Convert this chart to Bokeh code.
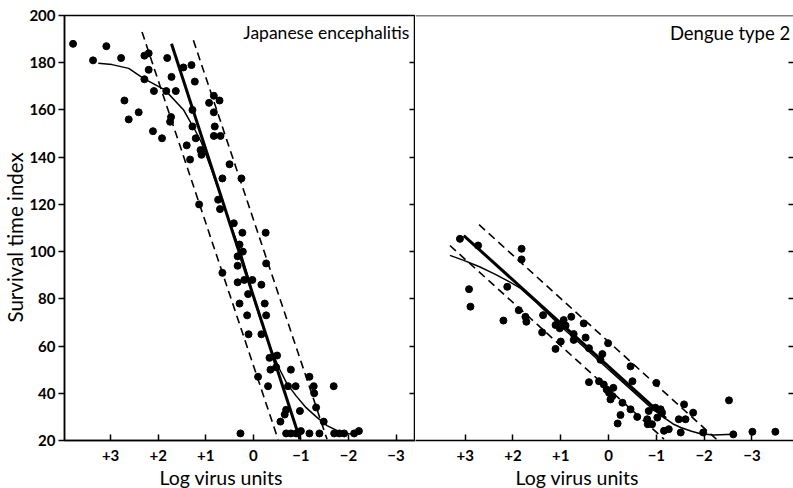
from bokeh.plotting import figure
from bokeh.layouts import row
from bokeh.models import Range1d, LinearAxis, FixedTicker, Label, Span, Title
from bokeh.embed import file_html
from bokeh.resources import INLINE

# ---------------- data ----------------
y_ticks = [20, 40, 60, 80, 100, 120, 140, 160, 180, 200]
inner_ticks = [40, 60, 80, 100, 120, 140, 160, 180]
x_ticks = [3, 2, 1, 0, -1, -2, -3]
x_tick_labels = ["+3", "+2", "+1", "0", "\u22121", "\u22122", "\u22123"]

# Japanese encephalitis observations
je_x = [3.79, 3.37, 3.09, 2.78, 2.71, 2.62, 2.41, 2.29, 2.20, 2.20, 2.29, 2.09, 2.11, 1.92,
        1.81, 1.83, 1.72, 1.63, 1.73, 1.75, 1.47, 1.30, 1.23, 1.28, 1.28, 1.40, 1.33, 1.21,
        1.11, 1.09, 1.14, 0.93, 0.83, 0.71, 0.83, 0.81, 0.83, 0.69, 0.65, 0.74, 0.70, 0.50,
        0.25, 0.41, 0.23, -0.26, 0.29, 0.22, 0.33, -0.27, 0.33, 0.65, 0.33, 0.19, 0.02, -0.17,
        0.11, 0.29, -0.24, 0.13, -0.27, 0.10, -0.17, -0.34, -0.50, -0.36, -0.48, -0.10, -0.31,
        -0.79, -0.73, -0.89, -1.18, -1.27, -1.28, -1.69, -0.69, -0.66, -0.57, -0.98, -1.32,
        -1.48, 0.27, -0.69, -0.79, -0.90, -1.00, -1.18, -1.39, -1.70, -1.81, -1.91, -2.12, -2.22]
je_y = [188, 181, 187, 182, 164, 156, 159, 183, 184, 177, 173, 168, 151, 148,
        182, 168, 174, 168, 157, 155, 178, 179, 172, 160, 153, 145, 139, 148,
        143, 141, 120, 163, 166, 164, 159, 153, 149, 149, 131, 122, 118, 137,
        131, 112, 108, 108, 103, 100, 98, 95, 94, 91, 87, 88, 88, 86,
        82, 78, 78, 73, 73, 65, 65, 55, 56, 50, 51, 47, 43,
        50, 43, 43, 47, 43, 40, 43, 33, 31, 28, 32.5, 34,
        28, 23, 23, 23, 23, 24, 23, 23, 23, 23, 23, 23, 24]

je_fit_x = [1.72, -0.98]
je_fit_y = [188, 20.5]
je_lo_x = [2.34, -0.52]
je_lo_y = [193, 20.5]
je_hi_x = [1.26, -1.55]
je_hi_y = [189.5, 20.5]
je_curve_x = [3.26, 2.97, 2.62, 2.31, 1.86, 1.47, 1.23, 1.09, 0.88, 0.67, 0.46, 0.25, 0.10,
              -0.04, -0.21, -0.38, -0.54, -0.71, -0.90, -1.11, -1.32, -1.55, -1.80, -2.05, -2.26]
je_curve_y = [179.8, 179.2, 177.6, 173.4, 168.5, 160.1, 151.6, 146.2, 134.8, 122.6, 110.4, 98.7,
              88.6, 78.0, 67.5, 58.3, 50.7, 44.0, 38.9, 33.9, 30.1, 26.3, 23.8, 22.7, 23.8]

# Dengue type 2 observations
den_x = [3.11, 2.73, 1.82, 1.82, 2.92, 2.89, 2.12, 2.20, 1.88, 1.74, 1.72, 1.37, 1.39, 1.11,
         1.02, 0.94, 0.90, 0.78, 1.11, 1.00, 0.73, 0.73, 0.52, 0.48, 0.41, 0.17, 0.13, 0.01,
         0.41, 0.20, 0.10, 0.04, -0.01, -0.08, -0.10, -0.04, -0.29, -0.46, -0.25, -0.19,
         -0.50, -0.46, -0.60, -0.81, -0.82, -0.84, -0.98, -1.09, -1.02, -1.12, -0.91, -1.16,
         -1.26, -1.00, -1.58, -1.47, -1.61, -1.77, -1.51, -1.98, -2.52, -2.61, -3.01, -3.49]
den_y = [105.4, 102.6, 101.2, 96.7, 84.1, 76.7, 85.1, 70.8, 75.2, 72.4, 70.3, 73.1, 65.8, 68.9,
         67.5, 71.0, 68.7, 72.4, 58.8, 61.9, 65.1, 62.6, 69.6, 63.6, 59.1, 54.2, 56.6, 61.2,
         44.7, 45.1, 43.7, 41.6, 40.2, 38.8, 42.3, 37.4, 36.0, 33.2, 30.8, 27.2,
         45.1, 51.4, 30.0, 29.0, 26.9, 32.5, 33.9, 33.2, 29.7, 31.8, 26.9, 24.1,
         24.8, 44.4, 35.3, 29.0, 29.0, 31.8, 23.4, 23.4, 37.0, 22.6, 23.7, 23.7]

den_fit_x = [3.03, -1.20]
den_fit_y = [106.8, 29.4]
den_lo_x = [3.32, -1.16]
den_lo_y = [102.6, 20.6]
den_hi_x = [2.71, -2.27]
den_hi_y = [111.4, 20.3]
den_curve_x = [3.32, 3.03, 2.70, 2.40, 2.10, 1.84, 1.50, 1.00, 0.50, 0.00, -0.50, -0.90,
               -1.16, -1.35, -1.51, -1.72, -1.92, -2.20, -2.61]
den_curve_y = [98.4, 96.3, 93.6, 90.7, 87.5, 84.4, 78.3, 68.4, 59.3, 50.1, 41.0, 33.7,
               29.7, 27.0, 25.5, 24.0, 22.9, 22.3, 22.6]

FONT = "Lato"
TICK_FS = "15px"
TEXT_FS = "17.5px"
AXIS_FS = "19.5px"


def style_bottom(ax):
    ax.ticker = FixedTicker(ticks=x_ticks)
    ax.major_label_overrides = {t: s for t, s in zip(x_ticks, x_tick_labels)}
    ax.major_tick_in = 6
    ax.major_tick_out = 0
    ax.minor_tick_line_color = None
    ax.major_label_text_font = FONT
    ax.major_label_text_font_size = TICK_FS
    ax.major_label_text_font_style = "bold"
    ax.major_label_text_color = "black"
    ax.major_label_standoff = 9
    ax.axis_line_width = 1.5
    ax.major_tick_line_width = 1.5


def inner_axis(ax, tick_in):
    ax.ticker = FixedTicker(ticks=inner_ticks)
    ax.major_label_overrides = {t: "" for t in inner_ticks}
    ax.major_tick_in = tick_in
    ax.major_tick_out = 0
    ax.minor_tick_line_color = None
    ax.major_label_standoff = 0
    ax.major_tick_line_width = 1.5


def draw_panel(p, xs, ys, fx, fy, lx, ly, hx, hy, cx, cy):
    p.line(lx, ly, line_color="black", line_width=1.6, line_dash="8 5")
    p.line(hx, hy, line_color="black", line_width=1.6, line_dash="8 5")
    p.line(fx, fy, line_color="black", line_width=3)
    p.line(cx, cy, line_color="black", line_width=1.5)
    p.scatter(xs, ys, size=7, color="black")


def bottom_title(p, offset):
    p.add_layout(Title(text="Log virus units", align="left", offset=offset, standoff=0,
                       text_font=FONT, text_font_size=AXIS_FS, text_font_style="normal",
                       text_color="black"), "below")


# ---------------- left panel ----------------
left = figure(width=415, height=488, x_range=Range1d(3.97, -3.41), y_range=Range1d(20, 200),
              output_backend="svg", toolbar_location=None,
              min_border_left=62, min_border_right=0, min_border_top=15, min_border_bottom=45)
left.grid.grid_line_color = None
left.outline_line_color = "black"
left.outline_line_width = 1.5
style_bottom(left.xaxis[0])
ly = left.yaxis[0]
ly.ticker = FixedTicker(ticks=y_ticks)
ly.major_tick_in = 0
ly.major_tick_out = 6
ly.minor_tick_line_color = None
ly.major_label_text_font = FONT
ly.major_label_text_font_size = TICK_FS
ly.major_label_text_font_style = "bold"
ly.major_label_text_color = "black"
ly.major_label_standoff = 3
ly.axis_line_width = 1.5
ly.major_tick_line_width = 1.5
rax = LinearAxis()
inner_axis(rax, 6)
rax.axis_line_width = 1.5
left.add_layout(rax, "right")

draw_panel(left, je_x, je_y, je_fit_x, je_fit_y, je_lo_x, je_lo_y, je_hi_x, je_hi_y,
           je_curve_x, je_curve_y)

left.add_layout(Label(x=-3.28, y=192.6, text="Japanese encephalitis", text_align="right",
                      text_baseline="alphabetic", text_font=FONT, text_font_size=TEXT_FS,
                      text_color="black"))
bottom_title(left, 95)
left.add_layout(Title(text="Survival time index", align="left", offset=118, standoff=0,
                      text_font=FONT, text_font_size="20.5px", text_font_style="normal",
                      text_color="black"), "left")

# ---------------- right panel ----------------
right = figure(width=378, height=488, x_range=Range1d(4.04, -3.87), y_range=Range1d(20, 200),
               output_backend="svg", toolbar_location=None, y_axis_location="right",
               min_border_left=0, min_border_right=0, min_border_top=15, min_border_bottom=45)
right.grid.grid_line_color = None
right.outline_line_color = None
style_bottom(right.xaxis[0])
inner_axis(right.yaxis[0], 5)
right.yaxis[0].axis_line_color = None
right.add_layout(Span(location=200, dimension="width", line_color="black", line_width=1.5))

draw_panel(right, den_x, den_y, den_fit_x, den_fit_y, den_lo_x, den_lo_y, den_hi_x, den_hi_y,
           den_curve_x, den_curve_y)

right.add_layout(Label(x=-3.8, y=192.6, text="Dengue type 2", text_align="right",
                       text_baseline="alphabetic", text_font=FONT, text_font_size="18.5px",
                       text_color="black"))
bottom_title(right, 100)

layout = row(left, right)
open("out.html", "w").write(file_html(layout, INLINE))
